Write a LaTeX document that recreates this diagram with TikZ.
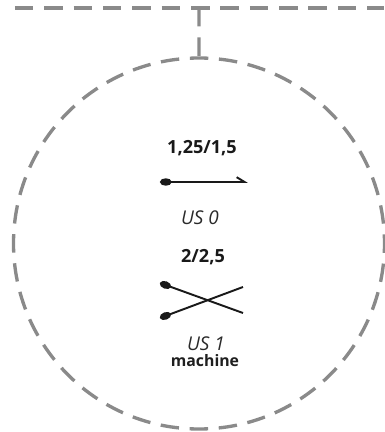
\documentclass[tikz,border=0pt]{standalone}
\usepackage{fontspec}
\IfFontExistsTF{Open Sans SemiBold}{\setmainfont{Open Sans}[BoldFont={Open Sans SemiBold}]}{\setmainfont{Open Sans}}
\usetikzlibrary{arrows.meta}
\definecolor{ringgray}{HTML}{8A8A8A}
\definecolor{inkgray}{HTML}{2A2A2A}
\begin{document}
\begin{tikzpicture}[scale=0.2,
    bus/.style={draw=ringgray, line width=1.9pt, dash pattern=on 10.5pt off 6.2pt},
    ring/.style={circle, draw=ringgray, line width=1.9pt, minimum size=7.42cm, outer sep=0pt,
      dash pattern=on 10.5pt off 6.08pt, dash phase=5.25pt},
    link/.style={black!90, line width=1.1pt},
    cable/.style={link, arrows={Ellipse[length=6.6pt,width=4.2pt]-}},
    signal/.style={link, arrows={Ellipse[length=6.6pt,width=4.2pt]-Straight Barb[left,length=4.5pt,width=5.5pt]}},
    rate/.style={anchor=base, text=black!90, font=\fontsize{10.3}{12}\selectfont\bfseries},
    usname/.style={anchor=base, text=inkgray, font=\fontsize{10.8}{13}\selectfont\itshape},
    role/.style={anchor=base, text=black!88, font=\fontsize{9}{11}\selectfont\bfseries}]
    \tikzstyle{every node}+=[inner sep=0pt]
    \useasboundingbox (0,0) rectangle (38.4,-43.2);
    \node [ring] (ring) at (19.9,-24.35) {};
    \coordinate (busL) at (1.5,-0.8);
    \coordinate (busR) at (38.4,-0.8);
    \coordinate (tap) at (ring.north |- busL);
    \draw [bus] (busL) -- (busR);
    \draw [bus] (tap) -- (ring.north);
    \node [rate] (rate0) at (20.2,-15.3) {1,25/1,5};
    \coordinate (s0) at (16.0,-18.2);
    \coordinate (e0) at (24.8,-18.2);
    \draw [signal] (s0) -- (e0);
    \node [usname] (us0) at (20.0,-22.4) {US 0};
    \node [rate] (rate1) at (20.3,-26.2) {2/2,5};
    \coordinate (s1a) at (16.0,-28.3);
    \coordinate (e1a) at (24.3,-31.3);
    \coordinate (s1b) at (16.0,-31.8);
    \coordinate (e1b) at (24.3,-28.7);
    \draw [cable] (s1a) -- (e1a);
    \draw [cable] (s1b) -- (e1b);
    \node [usname] (us1) at (20.6,-35.0) {US 1};
    \node [role] (role1) at (20.5,-36.6) {machine};
\end{tikzpicture}
\end{document}
